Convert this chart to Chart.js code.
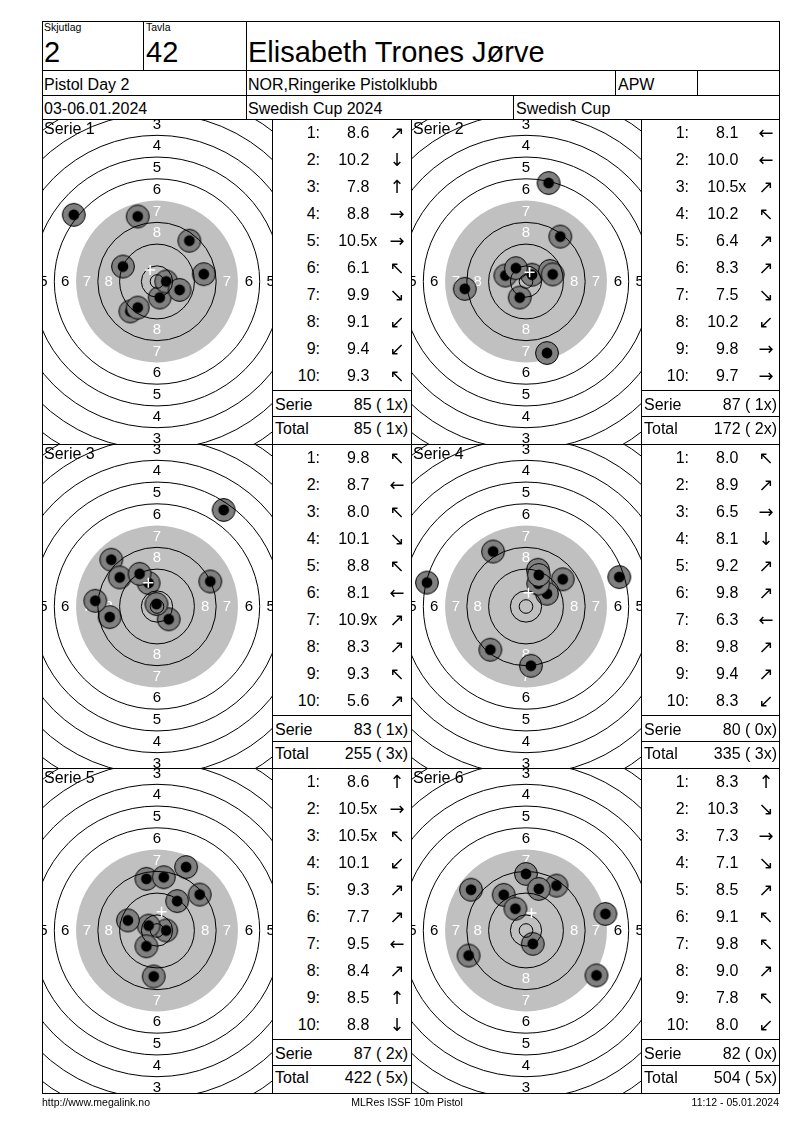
<!DOCTYPE html>
<html>
<head>
<meta charset="utf-8">
<script src="https://cdn.jsdelivr.net/npm/chart.js@4.4.1/dist/chart.umd.min.js"></script>
<style>
  body { margin: 0; background: #fff; font-family: "Liberation Sans", Arial, sans-serif; }
  #page { position: relative; width: 800px; height: 1130px; overflow: hidden; background: #fff; }
  .t { position: absolute; white-space: nowrap; color: #000; }
  .ln { position: absolute; background: #000; z-index: 5; }
  canvas { position: absolute; }
</style>
</head>
<body>
<div id="page"></div>
<script>
// header texts
const shotGroup = '2';
const laneNo = '42';
const shooterName = 'Elisabeth Trones Jørve';
const eventName = 'Pistol Day 2';
const clubName = 'NOR,Ringerike Pistolklubb';
const className = 'APW';
const dateText = '03-06.01.2024';
const compName = 'Swedish Cup 2024';
const cupName = 'Swedish Cup';

// shot positions in mm from centre (x right, y up)
const serie1X = [11.9, 1.0, -7.1, 17.2, 3.4, -30.6, 8.3, -9.8, -7.1, -12.5];
const serie1Y = [15.0, -5.9, 23.9, 2.7, 0.0, 24.5, -3.1, -11.0, -9.6, 5.5];
const serie1Scores = ['8.6', '10.2', '7.8', '8.8', '10.5x', '6.1', '9.9', '9.1', '9.4', '9.3'];
const serie1Dirs = ['↗', '↓', '↑', '→', '→', '↖', '↘', '↙', '↙', '↖'];

const serie2X = [-22.5, -7.6, 2.2, -3.7, 8.3, 12.6, 7.7, -2.3, 8.8, 9.8];
const serie2Y = [-2.7, 2.2, 2.5, 4.9, 36.2, 16.5, -26.3, -5.9, 3.9, 2.6];
const serie2Scores = ['8.1', '10.0', '10.5x', '10.2', '6.4', '8.3', '7.5', '10.2', '9.8', '9.7'];
const serie2Dirs = ['←', '←', '↗', '↖', '↗', '↗', '↘', '↙', '→', '→'];

const serie3X = [-3.1, -17.4, -16.8, 4.3, -13.7, -22.7, -0.2, 19.6, -6.4, 24.5];
const serie3Y = [8.6, -3.9, 17.2, -4.7, 10.7, 2.1, 0.9, 9.2, 12.0, 35.5];
const serie3Scores = ['9.8', '8.7', '8.0', '10.1', '8.8', '8.1', '10.9x', '8.3', '9.3', '5.6'];
const serie3Dirs = ['↖', '←', '↖', '↘', '↖', '←', '↗', '↗', '↖', '↗'];

const serie4X = [-12.1, 13.5, 34.3, 1.8, 4.4, 7.7, -36.4, 4.5, 4.7, -13.1];
const serie4Y = [20.2, 10.0, 10.8, -21.8, 13.5, 4.7, 8.8, 8.4, 11.6, -15.9];
const serie4Scores = ['8.0', '8.9', '6.5', '8.1', '9.2', '9.8', '6.3', '9.8', '9.4', '8.3'];
const serie4Dirs = ['↖', '↗', '→', '↓', '↗', '↗', '←', '↗', '↗', '↙'];

const serie5X = [-3.9, 3.4, -3.1, -3.9, 7.4, 10.7, -10.7, 15.7, 2.5, -1.2];
const serie5Y = [19.0, 0.0, 1.8, -5.8, 10.8, 23.3, 3.7, 13.2, 19.6, -16.9];
const serie5Scores = ['8.6', '10.5x', '10.5x', '10.1', '9.3', '7.7', '9.5', '8.4', '8.5', '8.8'];
const serie5Dirs = ['↑', '→', '↖', '↙', '↗', '↗', '←', '↗', '↑', '↓'];

const serie6X = [0.0, 2.5, 29.2, 25.9, 11.2, -8.2, -3.9, 4.7, -20.2, -21.1];
const serie6Y = [20.8, -4.9, 6.1, -16.5, 16.5, 13.1, 8.0, 15.3, 15.0, -9.2];
const serie6Scores = ['8.3', '10.3', '7.3', '7.1', '8.5', '9.1', '9.8', '9.0', '7.8', '8.0'];
const serie6Dirs = ['↑', '↘', '→', '↘', '↗', '↖', '↖', '↗', '↖', '↙'];

const serieSums = ['85 ( 1x)', '87 ( 1x)', '83 ( 1x)', '80 ( 0x)', '87 ( 2x)', '82 ( 0x)'];
const runningTotals = ['85 ( 1x)', '172 ( 2x)', '255 ( 3x)', '335 ( 3x)', '422 ( 5x)', '504 ( 5x)'];

// ISSF 10m pistol target rings (mm)
const ringValues = [1, 2, 3, 4, 5, 6, 8, 9, 10];
const ringLabels = [3, 4, 5, 6, 7, 8];
const innerTenRadius = 2.5;
const blackRadius = 29.75;

const footerLeft = 'http://www.megalink.no';
const footerMid = 'MLRes ISSF 10m Pistol';
const footerRight = '11:12 - 05.01.2024';

const page = document.getElementById('page');
const PX_PER_MM = 2.72;

function ringRadius(v) {
    return 5.75 + 8 * (10 - v);
}

function text(str, x, base, size, align, font) {
    const d = document.createElement('div');
    d.className = 't';
    d.textContent = str;
    d.style.fontSize = size + 'px';
    d.style.lineHeight = size + 'px';
    if (font) d.style.fontFamily = font;
    d.style.top = (base - 0.8465 * size) + 'px';
    if (align === 'right') {
        d.style.right = (800 - x) + 'px';
    } else if (align === 'center') {
        d.style.left = (x - 200) + 'px';
        d.style.width = '400px';
        d.style.textAlign = 'center';
    } else {
        d.style.left = x + 'px';
    }
    page.appendChild(d);
}

function hline(x1, x2, y) {
    const d = document.createElement('div');
    d.className = 'ln';
    d.style.left = x1 + 'px';
    d.style.top = y + 'px';
    d.style.width = (x2 - x1 + 1) + 'px';
    d.style.height = '1px';
    page.appendChild(d);
}

function vline(x, y1, y2) {
    const d = document.createElement('div');
    d.className = 'ln';
    d.style.left = x + 'px';
    d.style.top = y1 + 'px';
    d.style.width = '1px';
    d.style.height = (y2 - y1 + 1) + 'px';
    page.appendChild(d);
}

// shot marker: grey pellet hole with black centre
function makeShotImage() {
    const c = document.createElement('canvas');
    c.width = 26;
    c.height = 26;
    const g = c.getContext('2d');
    g.fillStyle = '#808080';
    g.strokeStyle = '#000';
    g.lineWidth = 1;
    g.beginPath();
    g.arc(13, 13, 11.4, 0, Math.PI * 2);
    g.fill();
    g.stroke();
    g.fillStyle = '#000';
    g.beginPath();
    g.arc(13, 13, 5.4, 0, Math.PI * 2);
    g.fill();
    return c;
}
const shotImage = makeShotImage();

const targetPlugin = {
    id: 'target',
    beforeDatasetsDraw(chart) {
        const { ctx, scales: { x, y } } = chart;
        const cx = x.getPixelForValue(0);
        const cy = y.getPixelForValue(0);
        ctx.save();
        ctx.fillStyle = '#c0c0c0';
        ctx.beginPath();
        ctx.arc(cx, cy, x.getPixelForValue(blackRadius) - cx, 0, Math.PI * 2);
        ctx.fill();

        ctx.font = '15px "Liberation Sans", Arial, sans-serif';
        ctx.textAlign = 'center';
        ctx.textBaseline = 'middle';
        ringLabels.forEach(v => {
            const d = ringRadius(v) - 4;
            ctx.fillStyle = v >= 7 ? '#ffffff' : '#000000';
            ctx.fillText(String(v), cx, y.getPixelForValue(d));
            ctx.fillText(String(v), cx, y.getPixelForValue(-d));
            ctx.fillText(String(v), x.getPixelForValue(-d), cy);
            ctx.fillText(String(v), x.getPixelForValue(d), cy);
        });
        ctx.restore();
    },
    afterDatasetDraw(chart, args) {
        if (args.index !== 1) return;
        const { ctx, scales: { x, y } } = chart;
        const cx = x.getPixelForValue(0);
        const cy = y.getPixelForValue(0);
        ctx.save();
        ctx.strokeStyle = '#000';
        ctx.lineWidth = 1;
        ringValues.map(ringRadius).concat([innerTenRadius]).forEach(r => {
            ctx.beginPath();
            ctx.arc(cx, cy, x.getPixelForValue(r) - cx, 0, Math.PI * 2);
            ctx.stroke();
        });
        ctx.restore();
    }
};

// header
hline(42, 779, 21);
hline(42, 779, 70);
hline(42, 779, 95);
hline(42, 779, 119);
vline(143, 21, 70);
vline(246, 21, 119);
vline(615, 70, 95);
vline(697, 70, 95);
vline(513, 95, 119);

text('Skjutlag', 44, 31, 10.5);
text('Tavla', 146, 31, 10.5);
text(shotGroup, 44, 62.5, 29);
text(laneNo, 146, 62.5, 29);
text(shooterName, 248, 62.5, 29);
text(eventName, 44, 90.5, 16);
text(clubName, 248, 90.5, 16);
text(className, 618, 90.5, 16);
text(dateText, 44, 114.5, 16);
text(compName, 248, 114.5, 16);
text(cupName, 516, 114.5, 16);

// series panels
const series = [
    [serie1X, serie1Y, serie1Scores, serie1Dirs],
    [serie2X, serie2Y, serie2Scores, serie2Dirs],
    [serie3X, serie3Y, serie3Scores, serie3Dirs],
    [serie4X, serie4Y, serie4Scores, serie4Dirs],
    [serie5X, serie5Y, serie5Scores, serie5Dirs],
    [serie6X, serie6Y, serie6Scores, serie6Dirs]
];
const rowTops = [119, 444, 768];
const targetLefts = [42, 411];
const tableLefts = [272, 641];
const TW = 230, TH = 325;

series.forEach((s, i) => {
    const [xs, ys, scores, dirs] = s;
    const T = rowTops[Math.floor(i / 2)];
    const TL = targetLefts[i % 2];
    const L = tableLefts[i % 2];

    const canvas = document.createElement('canvas');
    canvas.width = TW;
    canvas.height = TH;
    canvas.style.left = TL + 'px';
    canvas.style.top = T + 'px';
    page.appendChild(canvas);

    const shots = xs.map((x, k) => ({ x: x, y: ys[k] }));
    const mean = {
        x: xs.reduce((a, b) => a + b, 0) / xs.length,
        y: ys.reduce((a, b) => a + b, 0) / ys.length
    };
    const xHalf = TW / 2 / PX_PER_MM;
    const yHalf = TH / 2 / PX_PER_MM;

    new Chart(canvas.getContext('2d'), {
        type: 'scatter',
        data: {
            datasets: [{
                label: 'centre',
                data: [mean],
                order: 0,
                pointStyle: 'cross',
                pointRadius: 5,
                borderColor: '#ffffff',
                borderWidth: 1.5
            }, {
                label: 'shots',
                data: shots,
                order: 1,
                pointStyle: shotImage,
                pointRadius: 12
            }]
        },
        options: {
            responsive: false,
            devicePixelRatio: 1,
            animation: false,
            events: [],
            layout: { padding: 0, autoPadding: false },
            plugins: {
                legend: { display: false },
                tooltip: { enabled: false }
            },
            scales: {
                x: { type: 'linear', display: false, min: -xHalf, max: xHalf },
                y: { type: 'linear', display: false, min: -yHalf, max: yHalf }
            }
        },
        plugins: [targetPlugin]
    });

    text('Serie ' + (i + 1), TL + 2, T + 15.7, 16);

    // score table
    scores.forEach((sc, k) => {
        const base = T + 19.7 + 27 * k;
        const dot = sc.indexOf('.');
        text((k + 1) + ':', L + 48, base, 16, 'right');
        text(sc.slice(0, dot), L + 84, base, 16, 'right');
        text(sc.slice(dot), L + 84, base, 16);
        text(dirs[k], L + 125, base + 0.5, 18, 'center', '"DejaVu Sans", sans-serif');
    });
    text('Serie', L + 3, T + 291.7, 16);
    text(serieSums[i], L + 136, T + 291.7, 16, 'right');
    text('Total', L + 3, T + 315.7, 16);
    text(runningTotals[i], L + 136, T + 315.7, 16, 'right');

    hline(L, L + 138, T + 271);
    hline(L, L + 138, T + 297);
});

// grid lines
hline(42, 779, 444);
hline(42, 779, 768);
hline(42, 779, 1093);
vline(42, 21, 1093);
vline(779, 21, 1093);
vline(272, 119, 1093);
vline(411, 119, 1093);
vline(641, 119, 1093);

// footer
text(footerLeft, 42, 1106, 10.5);
text(footerMid, 407, 1106, 10.5, 'center');
text(footerRight, 779, 1106, 10.5, 'right');
</script>
</body>
</html>
